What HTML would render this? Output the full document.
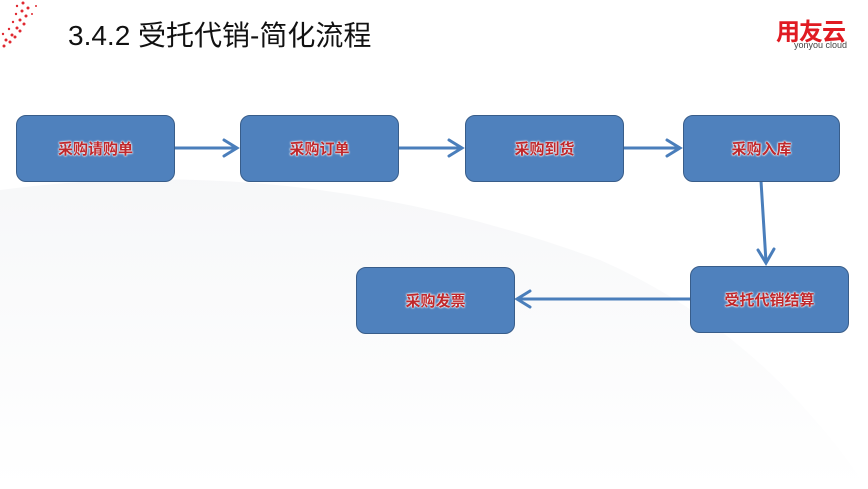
<!DOCTYPE html>
<html><head><meta charset="utf-8"><style>
body{margin:0;width:868px;height:489px;overflow:hidden;background:#fff;position:relative;font-family:"Liberation Sans","Noto Sans CJK SC",sans-serif}
.bg{position:absolute;left:0;top:0}
.t{position:absolute;left:68px;top:14px;font-size:28px;color:#111;font-family:"Liberation Sans","Noto Sans CJK SC",sans-serif}
.logo{position:absolute;left:776px;top:12px;color:#e01b22;font-size:24px;font-weight:bold;letter-spacing:-1px}
.logo2{position:absolute;left:794px;top:40px;color:#444;font-size:9px}
.b{position:absolute;width:157px;height:64px;background:#4f81bd;border:1.5px solid #385d8a;border-radius:10px;box-sizing:border-box;display:flex;align-items:center;justify-content:center;font-size:15px;font-weight:bold;color:#c0282c;text-shadow:0 0 2px #fff,0 0 2px #fff,0 0 1px #fff}
</style></head><body>
<svg class="bg" width="868" height="489">
<defs><linearGradient id="g" x1="0" y1="0" x2="0" y2="1"><stop offset="0" stop-color="#f3f4f6"/><stop offset="1" stop-color="#fff"/></linearGradient></defs>
<path d="M0 190 Q300 150 600 260 Q760 330 868 489 L0 489Z" fill="url(#g)" opacity="0.7"/>
<g fill="#e02830">
<circle cx="4" cy="46" r="1.5"/><circle cx="10" cy="42" r="1.5"/><circle cx="15" cy="37" r="1.5"/><circle cx="20" cy="31" r="1.5"/><circle cx="24" cy="24" r="1.5"/><circle cx="26" cy="16" r="1.5"/><circle cx="28" cy="8" r="1.5"/>
<circle cx="6" cy="40" r="1.5"/><circle cx="12" cy="35" r="1.5"/><circle cx="17" cy="28" r="1.5"/><circle cx="20" cy="20" r="1.5"/><circle cx="22" cy="11" r="1.5"/><circle cx="23" cy="3" r="1.5"/>
<circle cx="3" cy="34" r="1.2"/><circle cx="9" cy="29" r="1.2"/><circle cx="13" cy="22" r="1.2"/><circle cx="16" cy="14" r="1.2"/><circle cx="17" cy="6" r="1.2"/>
<circle cx="36" cy="6" r="1"/><circle cx="32" cy="14" r="1"/>
</g>
<g stroke="#4a7ebb" stroke-width="3" fill="none" stroke-linecap="round">
<line x1="175" y1="148" x2="236" y2="148"/><polyline points="224,140 237,148 224,156"/>
<line x1="399" y1="148" x2="461" y2="148"/><polyline points="449,140 462,148 449,156"/>
<line x1="624" y1="148" x2="679" y2="148"/><polyline points="667,140 680,148 667,156"/>
<line x1="761" y1="181" x2="766" y2="262"/><polyline points="758,250 766,263 774,249"/>
<line x1="690" y1="299" x2="518" y2="299"/><polyline points="530,291 517,299 530,307"/>
</g>
</svg>
<div class="t">3.4.2 受托代销-简化流程</div>
<div class="logo">用友云</div>
<div class="logo2">yonyou cloud</div>
<div class="b" style="left:16px;top:115px;width:159px;height:67px">采购请购单</div>
<div class="b" style="left:240px;top:115px;width:159px;height:67px">采购订单</div>
<div class="b" style="left:465px;top:115px;width:159px;height:67px">采购到货</div>
<div class="b" style="left:683px;top:115px;width:157px;height:67px">采购入库</div>
<div class="b" style="left:690px;top:266px;width:159px;height:67px">受托代销结算</div>
<div class="b" style="left:356px;top:267px;width:159px;height:67px">采购发票</div>
</body></html>
